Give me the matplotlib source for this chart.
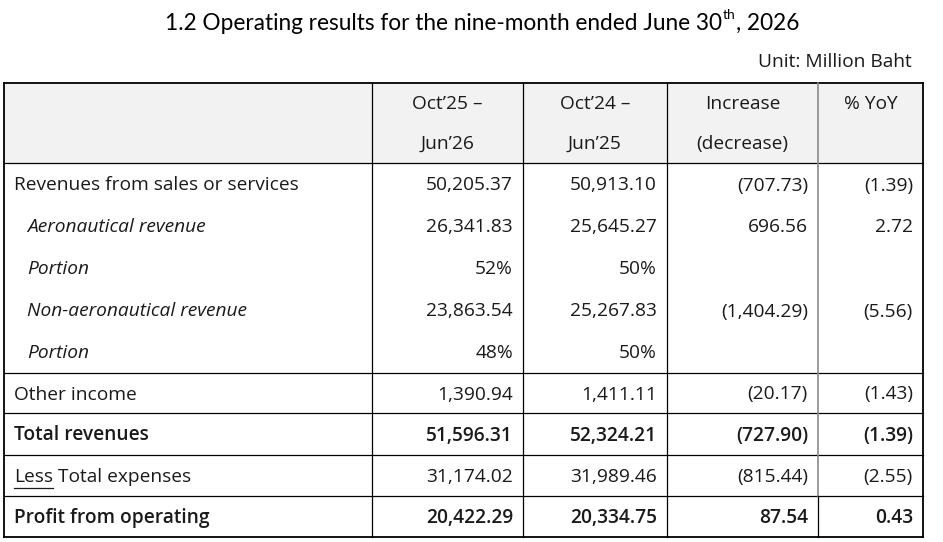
import matplotlib
matplotlib.use('Agg')
import matplotlib.pyplot as plt

# table content
title_main = "1.2 Operating results for the nine-month ended June 30"
title_sup = "th"
title_end = ", 2026"
unit_text = "Unit: Million Baht"

col_headers = [("Oct\u201925 \u2013", "Jun\u201926"),
               ("Oct\u201924 \u2013", "Jun\u201925"),
               ("Increase", "(decrease)"),
               ("% YoY", "")]

row_labels = ["Revenues from sales or services", "Aeronautical revenue", "Portion",
              "Non-aeronautical revenue", "Portion", "Other income", "Total revenues",
              "Less Total expenses", "Profit from operating"]
row_italic = [False, True, True, True, True, False, False, False, False]
row_bold = [False, False, False, False, False, False, True, False, True]

cur_period = ["50,205.37", "26,341.83", "52%", "23,863.54", "48%",
              "1,390.94", "51,596.31", "31,174.02", "20,422.29"]
prev_period = ["50,913.10", "25,645.27", "50%", "25,267.83", "50%",
               "1,411.11", "52,324.21", "31,989.46", "20,334.75"]
change = ["(707.73)", "696.56", "", "(1,404.29)", "",
          "(20.17)", "(727.90)", "(815.44)", "87.54"]
yoy = ["(1.39)", "2.72", "", "(5.56)", "",
       "(1.43)", "(1.39)", "(2.55)", "0.43"]

# layout in pixels
W, H = 943, 542
col_x = [4, 372, 523, 667, 818, 923]
row_y = [83, 163, 205, 247, 289, 331, 373, 413, 455, 496, 537]
hlines_at = [0, 1, 6, 7, 8, 9, 10]

FONT = 'Open Sans'
FS = 13.8
TXT = '#1a1a1a'
DY = 1.5  # text sits a little below the cell middle

fig = plt.figure(figsize=(W / 100, H / 100), dpi=100)
ax = fig.add_axes([0, 0, 1, 1])
ax.set_xlim(0, W)
ax.set_ylim(H, 0)
ax.axis('off')

# header background
ax.fill_between([col_x[0], col_x[-1]], row_y[0], row_y[1], color='#f2f2f2', lw=0, zorder=0)

# horizontal borders
for i in hlines_at:
    lw = 1.3 if i in (0, 10) else 0.9
    ax.plot([col_x[0], col_x[-1]], [row_y[i], row_y[i]], color='black', lw=lw, zorder=3)

# vertical borders
for j, x in enumerate(col_x):
    lw = 1.3 if j in (0, len(col_x) - 1) else 0.9
    if j == 4:
        ax.plot([x, x], [row_y[0], row_y[9]], color='#8a8a8a', lw=1.2, zorder=3)
        ax.plot([x, x], [row_y[9], row_y[10]], color='black', lw=lw, zorder=3)
    else:
        ax.plot([x, x], [row_y[0], row_y[-1]], color='black', lw=lw, zorder=3)

# titles
fig.canvas.draw()
r = fig.canvas.get_renderer()
t1 = ax.text(165, 23, title_main, fontsize=16.3, family='Lato', va='center', ha='left')
bb = t1.get_window_extent(r)
t2 = ax.text(bb.x1 + 1, 15, title_sup, fontsize=10, family='Lato', va='center', ha='left')
bb2 = t2.get_window_extent(r)
ax.text(bb2.x1, 23, title_end, fontsize=16.3, family='Lato', va='center', ha='left')
ax.text(912, 62, unit_text, fontsize=FS, family=FONT, va='center', ha='right', color=TXT)

# header text
for j, (l1, l2) in enumerate(col_headers):
    cx = (col_x[j + 1] + col_x[j + 2]) / 2
    ax.text(cx, 104, l1, fontsize=FS, family=FONT, ha='center', va='center', color=TXT)
    if l2:
        ax.text(cx, 144, l2, fontsize=FS, family=FONT, ha='center', va='center', color=TXT)

# body
cols = [cur_period, prev_period, change, yoy]
for i, lab in enumerate(row_labels):
    cy = (row_y[i + 1] + row_y[i + 2]) / 2 + DY
    weight = 'semibold' if row_bold[i] else 'normal'
    style = 'italic' if row_italic[i] else 'normal'
    lx = 27 if row_italic[i] else 14
    if lab.startswith("Less "):
        tl = ax.text(lx, cy, "Less", fontsize=FS, family=FONT, ha='left', va='center', color=TXT)
        b = tl.get_window_extent(r)
        ax.plot([lx, b.x1], [cy + 11, cy + 11], color=TXT, lw=0.9)
        ax.text(b.x1, cy, " " + lab[5:], fontsize=FS, family=FONT, ha='left', va='center',
                color=TXT)
    else:
        ax.text(lx, cy, lab, fontsize=FS, family=FONT, ha='left', va='center',
                fontweight=weight, fontstyle=style, color=TXT)
    for j, vals in enumerate(cols):
        rx = col_x[j + 2] - 10
        ax.text(rx, cy, vals[i], fontsize=FS, family=FONT, ha='right', va='center',
                fontweight=weight, color=TXT)

fig.savefig('out.png', dpi=100)
